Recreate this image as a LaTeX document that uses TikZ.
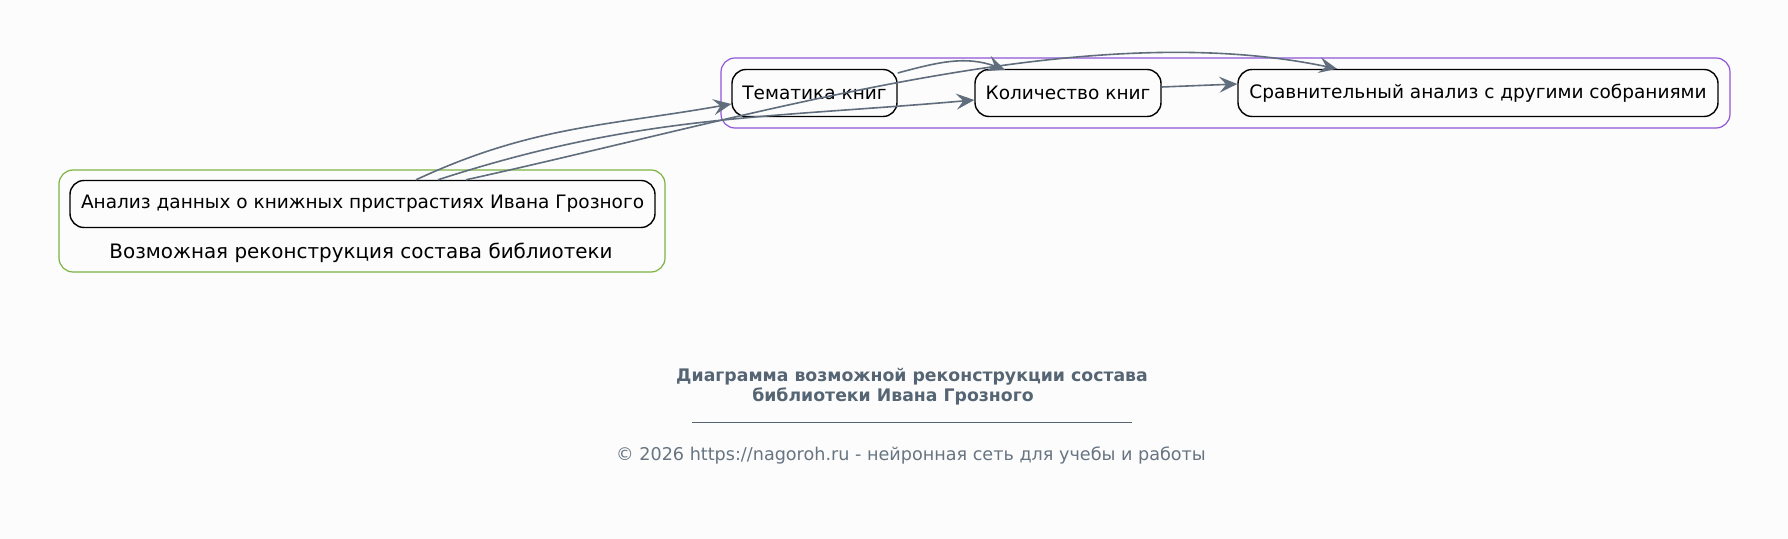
\documentclass[tikz,border=0pt]{standalone}
\usepackage{fontspec}
\setmainfont{DejaVu Sans}
\usetikzlibrary{calc,arrows.meta}
\definecolor{edgegray}{HTML}{5F6D7C}
\definecolor{titlegray}{HTML}{566573}
\definecolor{grpgreen}{HTML}{7CB342}
\definecolor{grppurple}{HTML}{8E56D8}
\tikzset{box/.style={draw=black,line width=0.7pt,rounded corners=7pt,minimum height=23.5pt,inner sep=0pt,font=\fontsize{9.25}{11}\selectfont},
grp/.style={line width=0.6pt,rounded corners=7pt},
link/.style={-{Stealth[length=9pt,width=8pt,inset=3.5pt]},line width=0.8pt,color=edgegray},
caption/.style={color=titlegray,font=\fontsize{8.65}{10}\selectfont\bfseries}}

\begin{document}
\begin{tikzpicture}[x=0.5pt,y=-0.5pt,inner sep=0pt]
\useasboundingbox[fill=white!99!black] (0,0) rectangle (1788,539);
% groups
\draw[grp,grpgreen](59,170) rectangle (665,272);
\draw[grp,grppurple](721,58) rectangle (1730,128);
\node[font=\fontsize{9.95}{12}\selectfont] (lbl) at (361,253) {Возможная реконструкция состава библиотеки};
% nodes
\node[box,minimum width=292.5pt] (an) at (362.5,204) {Анализ данных о книжных пристрастиях Ивана Грозного};
\node[box,minimum width=82.5pt] (tem) at (814.5,93) {Тематика книг};
\node[box,minimum width=93pt] (kol) at (1068,93) {Количество книг};
\node[box,minimum width=240pt] (srav) at (1478,93) {Сравнительный анализ с другими собраниями};
% links
\draw[link]($(an.north)+(53.5,0)$) to[out=25,in=190] ($(tem.west)+(0,11)$);
\draw[link]($(an.north)+(75.5,0)$) to[out=18,in=185] ($(kol.west)+(0,7)$);
\draw[link]($(an.north)+(103.5,0)$) .. controls (760,115) and (1080,15) .. ($(srav.north)+(-141,0)$);
\draw[link]($(tem.east)+(0,-20)$) to[out=15,in=160] ($(kol.north)+(-63,1)$);
\draw[link]($(kol.east)+(0,-6)$) -- ($(srav.west)+(0,-9)$);
% caption
\node[caption] (t1) at (912,377) {Диаграмма возможной реконструкции состава};
\node[caption] (t2) at (893,396) {библиотеки Ивана Грозного};
\draw[titlegray,line width=0.4pt](692,422)--(1132,422);
\node[color=titlegray!90,font=\fontsize{8.8}{10}\selectfont] (copy) at (911,455) {© 2026 https://nagoroh.ru - нейронная сеть для учебы и работы};
\end{tikzpicture}
\end{document}
